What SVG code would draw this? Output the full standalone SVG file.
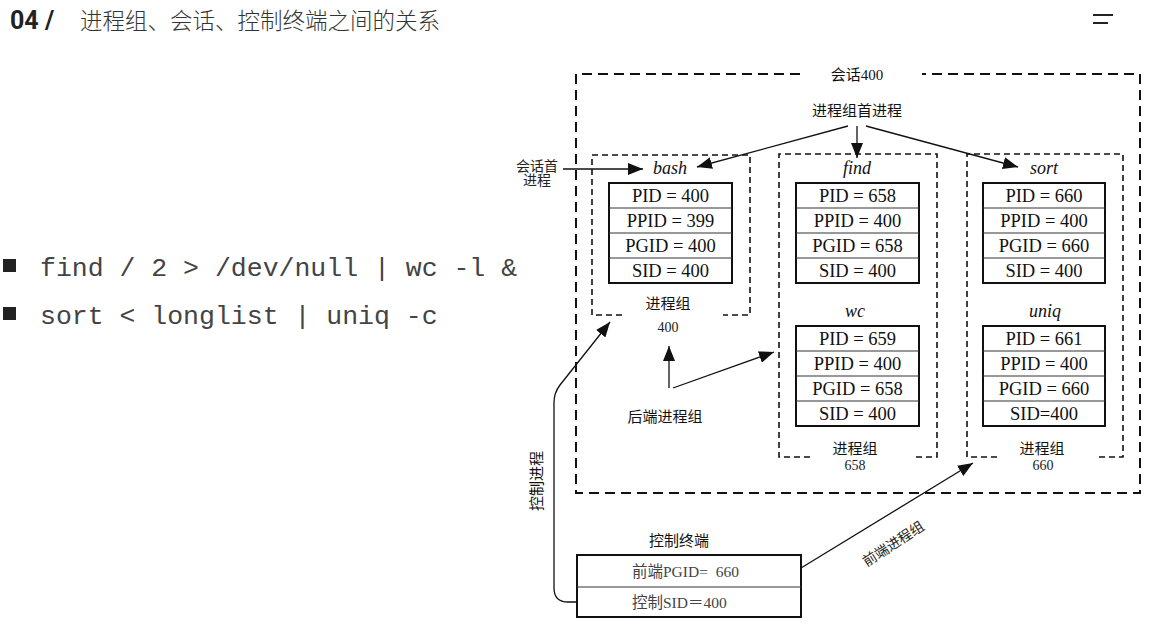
<svg xmlns="http://www.w3.org/2000/svg" width="1153" height="629" viewBox="0 0 1153 629">
  <defs>
    <marker id="arrow" markerUnits="userSpaceOnUse" markerWidth="16" markerHeight="12" refX="15" refY="6" orient="auto">
      <path d="M0 0 L15 6 L0 12 Z" fill="#111"/>
    </marker>
    <style>
      .title-num { font-family: Roboto, "Liberation Sans", sans-serif; font-weight: 700; font-size: 25px; fill: #222; }
      .title-cjk { font-family: "Noto Sans CJK SC", sans-serif; font-weight: 300; font-size: 22.5px; fill: #333; }
      .cmd { font-family: "Liberation Mono", monospace; font-size: 26.5px; fill: #444; }
      .session { fill: none; stroke: #111; stroke-width: 2; stroke-dasharray: 10 6; }
      .group { fill: none; stroke: #111; stroke-width: 1.6; stroke-dasharray: 6 4; }
      .table { fill: #fff; stroke: #111; stroke-width: 2; }
      .row { stroke: #333; stroke-width: 1; }
      .cell { font-family: "Liberation Serif", serif; font-size: 18.5px; fill: #111; text-anchor: middle; }
      .proc { font-family: "Liberation Serif", serif; font-style: italic; font-size: 18px; fill: #111; text-anchor: middle; }
      .label { font-family: "Liberation Serif", "Noto Sans CJK SC", serif; font-size: 15px; fill: #111; text-anchor: middle; }
      .small { font-family: "Liberation Serif", "Noto Sans CJK SC", serif; font-size: 14px; fill: #222; text-anchor: middle; }
      .term { font-family: "Liberation Serif", "Noto Sans CJK SC", serif; font-size: 15.5px; fill: #444; white-space: pre; }
      .link { fill: none; stroke: #111; stroke-width: 1.3; }
    </style>
  </defs>

  <!-- heading -->
  <g id="heading">
    <text class="title-num" x="10" y="29">04 /</text>
    <text class="title-cjk" x="80" y="29">进程组、会话、控制终端之间的关系</text>
  </g>

  <!-- menu icon -->
  <g id="menu" stroke="#222" stroke-width="2">
    <line x1="1093" y1="15" x2="1113" y2="15"/>
    <line x1="1093" y1="23" x2="1108" y2="23"/>
  </g>

  <!-- command lines -->
  <g id="commands">
    <rect x="3" y="259" width="13" height="13" fill="#222"/>
    <text class="cmd" x="40" y="276">find / 2 &gt; /dev/null | wc -l &amp;</text>
    <rect x="3" y="307" width="13" height="13" fill="#222"/>
    <text class="cmd" x="40" y="324">sort &lt; longlist | uniq -c</text>
  </g>

  <!-- session 400 -->
  <g id="session">
    <path class="session" d="M800 74 H576 V493 H1140 V74 H922"/>
    <text class="label" x="857" y="80">会话400</text>
    <text class="label" x="857" y="116">进程组首进程</text>
  </g>

  <!-- process group 400 -->
  <g id="group-400">
    <path class="group" d="M622 315 H592 V155 H750 V315 H723"/>
    <text class="label" x="668" y="309">进程组</text>
    <text class="small" x="668" y="332">400</text>
  </g>

  <!-- process group 658 -->
  <g id="group-658">
    <path class="group" d="M810 457 H779 V154 H937 V457 H912"/>
    <text class="label" x="855" y="454">进程组</text>
    <text class="small" x="855" y="470">658</text>
  </g>

  <!-- process group 660 -->
  <g id="group-660">
    <path class="group" d="M997 457 H967 V154 H1123 V457 H1098"/>
    <text class="label" x="1042" y="454">进程组</text>
    <text class="small" x="1043" y="470">660</text>
  </g>

  <!-- bash -->
  <g id="proc-bash">
    <text class="proc" x="670" y="174">bash</text>
    <rect class="table" x="609" y="183" width="123" height="100"/>
    <line class="row" x1="609" y1="208" x2="732" y2="208"/>
    <line class="row" x1="609" y1="233" x2="732" y2="233"/>
    <line class="row" x1="609" y1="258" x2="732" y2="258"/>
    <text class="cell" x="670.5" y="202">PID = 400</text>
    <text class="cell" x="670.5" y="227">PPID = 399</text>
    <text class="cell" x="670.5" y="252">PGID = 400</text>
    <text class="cell" x="670.5" y="277">SID = 400</text>
  </g>

  <!-- find -->
  <g id="proc-find">
    <text class="proc" x="857" y="174">find</text>
    <rect class="table" x="796" y="183" width="123" height="100"/>
    <line class="row" x1="796" y1="208" x2="919" y2="208"/>
    <line class="row" x1="796" y1="233" x2="919" y2="233"/>
    <line class="row" x1="796" y1="258" x2="919" y2="258"/>
    <text class="cell" x="857.5" y="202">PID = 658</text>
    <text class="cell" x="857.5" y="227">PPID = 400</text>
    <text class="cell" x="857.5" y="252">PGID = 658</text>
    <text class="cell" x="857.5" y="277">SID = 400</text>
  </g>

  <!-- wc -->
  <g id="proc-wc">
    <text class="proc" x="855" y="317">wc</text>
    <rect class="table" x="796" y="326" width="123" height="100"/>
    <line class="row" x1="796" y1="351" x2="919" y2="351"/>
    <line class="row" x1="796" y1="376" x2="919" y2="376"/>
    <line class="row" x1="796" y1="401" x2="919" y2="401"/>
    <text class="cell" x="857.5" y="345">PID = 659</text>
    <text class="cell" x="857.5" y="370">PPID = 400</text>
    <text class="cell" x="857.5" y="395">PGID = 658</text>
    <text class="cell" x="857.5" y="420">SID = 400</text>
  </g>

  <!-- sort -->
  <g id="proc-sort">
    <text class="proc" x="1044" y="174">sort</text>
    <rect class="table" x="983" y="183" width="122" height="100"/>
    <line class="row" x1="983" y1="208" x2="1105" y2="208"/>
    <line class="row" x1="983" y1="233" x2="1105" y2="233"/>
    <line class="row" x1="983" y1="258" x2="1105" y2="258"/>
    <text class="cell" x="1044" y="202">PID = 660</text>
    <text class="cell" x="1044" y="227">PPID = 400</text>
    <text class="cell" x="1044" y="252">PGID = 660</text>
    <text class="cell" x="1044" y="277">SID = 400</text>
  </g>

  <!-- uniq -->
  <g id="proc-uniq">
    <text class="proc" x="1045" y="317">uniq</text>
    <rect class="table" x="983" y="326" width="122" height="100"/>
    <line class="row" x1="983" y1="351" x2="1105" y2="351"/>
    <line class="row" x1="983" y1="376" x2="1105" y2="376"/>
    <line class="row" x1="983" y1="401" x2="1105" y2="401"/>
    <text class="cell" x="1044" y="345">PID = 661</text>
    <text class="cell" x="1044" y="370">PPID = 400</text>
    <text class="cell" x="1044" y="395">PGID = 660</text>
    <text class="cell" x="1044" y="420">SID=400</text>
  </g>

  <!-- controlling terminal -->
  <g id="terminal">
    <text class="label" x="679" y="546">控制终端</text>
    <rect x="577" y="555" width="224" height="62" fill="#fff" stroke="#111" stroke-width="2"/>
    <line x1="577" y1="587" x2="801" y2="587" stroke="#333" stroke-width="1"/>
    <text class="term" x="632" y="577" xml:space="preserve">前端PGID=  660</text>
    <text class="term" x="632" y="608">控制SID＝400</text>
  </g>

  <!-- free labels -->
  <g id="labels">
    <text class="small" x="537" y="171">会话首</text>
    <text class="small" x="537" y="185">进程</text>
    <text class="label" x="665" y="422">后端进程组</text>
    <text class="label" transform="translate(542 481) rotate(-90)" x="0" y="0">控制进程</text>
    <text class="small" transform="translate(896 548) rotate(-33)" x="0" y="0">前端进程组</text>
  </g>

  <!-- connectors -->
  <g id="connectors">
    <line class="link" x1="848" y1="126" x2="697" y2="167" marker-end="url(#arrow)"/>
    <line class="link" x1="857" y1="126" x2="857" y2="158" marker-end="url(#arrow)"/>
    <line class="link" x1="866" y1="126" x2="1018" y2="167" marker-end="url(#arrow)"/>
    <line class="link" x1="563" y1="169" x2="643" y2="169" marker-end="url(#arrow)"/>
    <line class="link" x1="669" y1="388" x2="669" y2="346" marker-end="url(#arrow)"/>
    <line class="link" x1="673" y1="388" x2="774" y2="352" marker-end="url(#arrow)"/>
    <path class="link" d="M577 602 L568 602 Q554 602 554 588 L554 402 Q554 393 560 385 L610 322" marker-end="url(#arrow)"/>
    <line class="link" x1="801" y1="568" x2="973" y2="463" marker-end="url(#arrow)"/>
  </g>
</svg>
